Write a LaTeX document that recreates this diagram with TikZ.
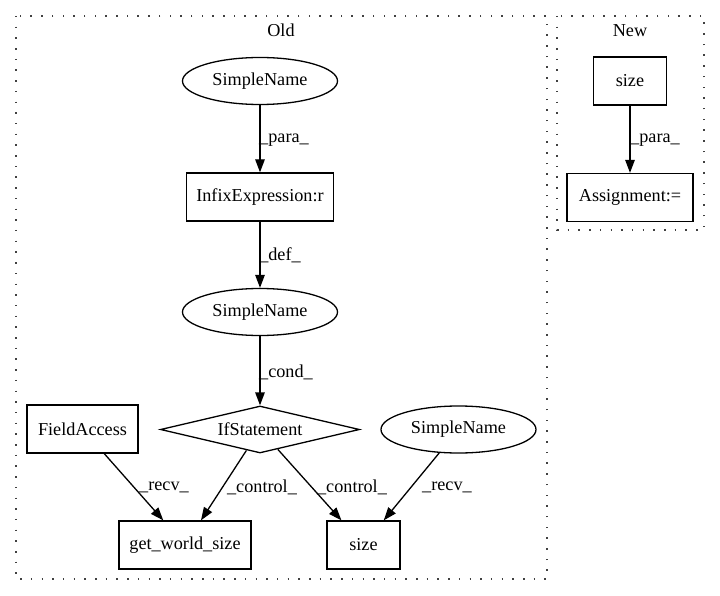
\documentclass[tikz,border=0pt]{standalone}
\usepackage{fontspec}
\setmainfont{Liberation Serif}
\usetikzlibrary{shapes.geometric,arrows.meta}
\begin{document}
\begin{tikzpicture}[x=1pt,y=-1pt,
  every node/.style={font=\fontsize{18.2}{22}\selectfont, inner sep=0pt},
  box/.style={draw, line width=1.3pt, rectangle, minimum height=48pt},
  oval/.style={draw, line width=1.3pt, ellipse, minimum width=155pt, minimum height=47pt},
  cond/.style={draw, line width=1.3pt, diamond, aspect=4.2, minimum width=199pt, minimum height=47pt},
  edge/.style={draw, line width=1.3pt, -{Triangle[length=13pt,width=9.5pt]}},
  clusterbox/.style={draw=black!75, line width=1.5pt, dash pattern=on 1.5pt off 9.2pt},
  lbl/.style={anchor=center}]
\useasboundingbox (0,0) rectangle (720,596);

% cluster frames
\path[clusterbox] (16,16) rectangle (547,579);
\path[clusterbox] (557,16) rectangle (704,230);
\node (oldtitle) at (281,30) {Old};
\node (newtitle) at (630,31) {New};

% Old
\node[oval] (sn1) at (260,81) {SimpleName};
\node[box, minimum width=147pt] (infix) at (260,197) {InfixExpression:r};
\node[oval] (sn2) at (260,312) {SimpleName};
\node[cond] (ifs) at (260,429.5) {IfStatement};
\node[box, minimum width=111pt] (fa) at (82.5,429) {FieldAccess};
\node[oval] (sn3) at (458.5,429.5) {SimpleName};
\node[box, minimum width=132pt] (gws) at (185,545) {get\_world\_size};
\node[box, minimum width=73pt] (osize) at (363.5,545) {size};

\draw[edge] (sn1) -- (infix);
\draw[edge] (infix) -- (sn2);
\draw[edge] (sn2) -- (ifs);
\draw[edge] (fa) -- (gws);
\draw[edge] (ifs) -- (gws);
\draw[edge] (ifs) -- (osize);
\draw[edge] (sn3) -- (osize);

\node[lbl] (l1) at (284,140) {\_para\_};
\node[lbl] (l2) at (280,255) {\_def\_};
\node[lbl] (l3) at (286,372) {\_cond\_};
\node[lbl] (l4) at (164,487) {\_recv\_};
\node[lbl] (l5) at (262,487) {\_control\_};
\node[lbl] (l6) at (352,487) {\_control\_};
\node[lbl] (l7) at (447,487) {\_recv\_};

% New
\node[box, minimum width=73pt] (nsize) at (630,81) {size};
\node[box, minimum width=126pt] (assign) at (630,197.5) {Assignment:=};
\draw[edge] (nsize) -- (assign);
\node[lbl] (l8) at (655,140) {\_para\_};
\end{tikzpicture}
\end{document}
